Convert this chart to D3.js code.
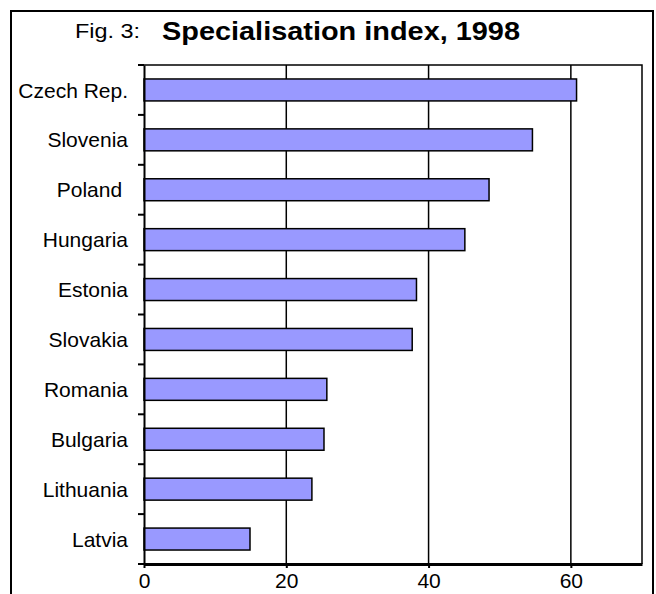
<!DOCTYPE html>
<html><head><meta charset="utf-8">
<script src="https://cdn.jsdelivr.net/npm/d3@7"></script>
<style>body{margin:0;background:#fff;} text{font-family:"Liberation Sans",Arial,sans-serif;}</style>
</head><body>
<svg id="c" width="656" height="594"></svg>
<script>
const categories = ["Czech Rep.","Slovenia","Poland ","Hungaria","Estonia","Slovakia","Romania","Bulgaria","Lithuania","Latvia"];
const values = [60.8,54.6,48.5,45.1,38.3,37.7,25.7,25.3,23.6,14.9];
const xTicks = [0,20,40,60];
const titlePrefix = "Fig. 3:";
const titleMain = "Specialisation index, 1998";

const svg = d3.select("#c");
const m = {left:144, top:65, right:642, bottom:564};
svg.append("rect").attr("x",11).attr("y",11).attr("width",642).attr("height",600)
  .attr("fill","none").attr("stroke","#000").attr("stroke-width",2);

const x = d3.scaleLinear().domain([0,70]).range([m.left,m.right]);
const y = d3.scaleBand().domain(categories).range([m.top,m.bottom]).paddingInner(0.56).paddingOuter(0.28);
const yb = d3.scaleBand().domain(categories).range([m.top,m.bottom]);

const g = svg.append("g");
g.selectAll("line.grid").data(xTicks.filter(d=>d>0)).join("line")
  .attr("x1",d=>x(d)).attr("x2",d=>x(d)).attr("y1",m.top).attr("y2",m.bottom)
  .attr("stroke","#000").attr("stroke-width",1.5);
g.append("path").attr("d",`M${m.left},${m.top}H${m.right}V${m.bottom}`)
  .attr("fill","none").attr("stroke","#000").attr("stroke-width",1.5);

g.selectAll("rect.bar").data(values).join("rect")
  .attr("x",x(0)).attr("y",(d,i)=>y(categories[i]))
  .attr("width",d=>x(d)-x(0)).attr("height",y.bandwidth())
  .attr("fill","#9999ff").attr("stroke","#000").attr("stroke-width",1.5);

const ya = d3.axisLeft(yb).tickSize(0).tickPadding(16);
const yg = svg.append("g").attr("transform",`translate(${m.left},0)`).call(ya);
yg.select(".domain").attr("stroke","#000").attr("stroke-width",2);
yg.selectAll("text").attr("font-size",21).attr("fill","#000").attr("font-family","Liberation Sans, Arial, sans-serif").attr("dy","0.36em").style("white-space","pre");
const bounds = categories.map(c=>yb(c)).concat([m.bottom]);
svg.selectAll("line.yt").data(bounds).join("line")
  .attr("x1",m.left-6).attr("x2",m.left).attr("y1",d=>d).attr("y2",d=>d)
  .attr("stroke","#000").attr("stroke-width",2);

const xa = d3.axisBottom(x).tickValues(xTicks).tickSize(4).tickPadding(5).tickSizeOuter(0);
const xg = svg.append("g").attr("transform",`translate(0,${m.bottom})`).call(xa);
xg.select(".domain").attr("stroke","#000").attr("stroke-width",3);
xg.selectAll(".tick line").attr("stroke","#000").attr("stroke-width",2);
xg.selectAll("text").attr("font-size",21).attr("fill","#000").attr("font-family","Liberation Sans, Arial, sans-serif");

svg.append("text").attr("x",75).attr("y",38).attr("font-size",20)
  .attr("textLength",65).attr("lengthAdjust","spacingAndGlyphs").text(titlePrefix);
svg.append("text").attr("x",162).attr("y",40).attr("font-size",26).attr("font-weight","bold")
  .attr("textLength",358).attr("lengthAdjust","spacingAndGlyphs").text(titleMain);
</script>
</body></html>
